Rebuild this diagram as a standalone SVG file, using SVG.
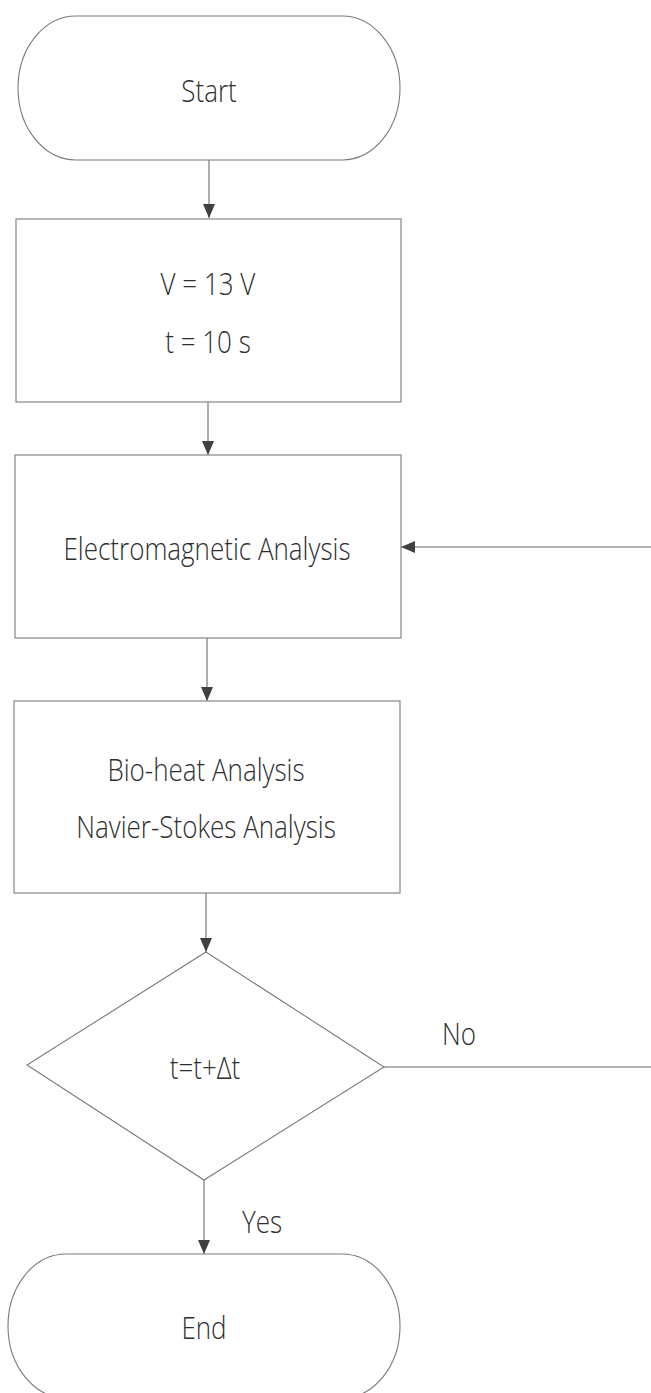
<svg xmlns="http://www.w3.org/2000/svg" width="651" height="1393" viewBox="0 0 651 1393">
<style>
.shape{fill:#fff;stroke:#7a7a7a;stroke-width:1.1}
.conn{fill:none;stroke:#6a6a6a;stroke-width:1.1}
.lbl{font-family:"Open Sans","Liberation Sans",sans-serif;font-weight:300;font-size:26px;fill:#2e2e2e;text-anchor:middle}
</style>
<defs>
<marker id="arr" markerWidth="14" markerHeight="12" refX="14" refY="6" orient="auto" markerUnits="userSpaceOnUse" viewBox="0 0 14 12">
<path d="M0,0 L14,6 L0,12 Z" fill="#404040"/>
</marker>
</defs>
<rect width="651" height="1393" fill="#fff"/>
<g id="connectors">
<line class="conn" x1="209" y1="160" x2="209" y2="218" marker-end="url(#arr)"/>
<line class="conn" x1="208" y1="402" x2="208" y2="455" marker-end="url(#arr)"/>
<line class="conn" x1="207" y1="638" x2="207" y2="701" marker-end="url(#arr)"/>
<line class="conn" x1="206" y1="893" x2="206" y2="952" marker-end="url(#arr)"/>
<line class="conn" x1="204" y1="1180" x2="204" y2="1254" marker-end="url(#arr)"/>
<line class="conn" x1="651" y1="547" x2="401" y2="547" marker-end="url(#arr)"/>
<line class="conn" x1="384" y1="1067" x2="651" y2="1067"/>
<text class="lbl" transform="translate(459,1045) scale(1,1.2)">No</text>
<text class="lbl" transform="translate(262,1233) scale(1,1.2)">Yes</text>
</g>
<g id="start">
<rect class="shape" x="18" y="16" width="382" height="144" rx="58" ry="72"/>
<text class="lbl" transform="translate(209,102) scale(1,1.2)">Start</text>
</g>
<g id="init">
<rect class="shape" x="16" y="219" width="385" height="183"/>
<text class="lbl" transform="translate(208,295) scale(1,1.2)">V = 13 V</text>
<text class="lbl" transform="translate(208,353) scale(1,1.2)">t = 10 s</text>
</g>
<g id="em">
<rect class="shape" x="15" y="455" width="386" height="183"/>
<text class="lbl" transform="translate(207,560) scale(1,1.2)">Electromagnetic Analysis</text>
</g>
<g id="bioheat">
<rect class="shape" x="14" y="701" width="386" height="192"/>
<text class="lbl" transform="translate(206,781) scale(1,1.2)">Bio-heat Analysis</text>
<text class="lbl" transform="translate(206,838) scale(1,1.2)">Navier-Stokes Analysis</text>
</g>
<g id="decision">
<polygon class="shape" points="206,952 384,1067 204,1180 27,1065"/>
<text class="lbl" transform="translate(205,1079) scale(1,1.2)">t=t+Δt</text>
</g>
<g id="end">
<rect class="shape" x="8" y="1254" width="392" height="144" rx="58" ry="72"/>
<text class="lbl" transform="translate(204,1339) scale(1,1.2)">End</text>
</g>
</svg>
